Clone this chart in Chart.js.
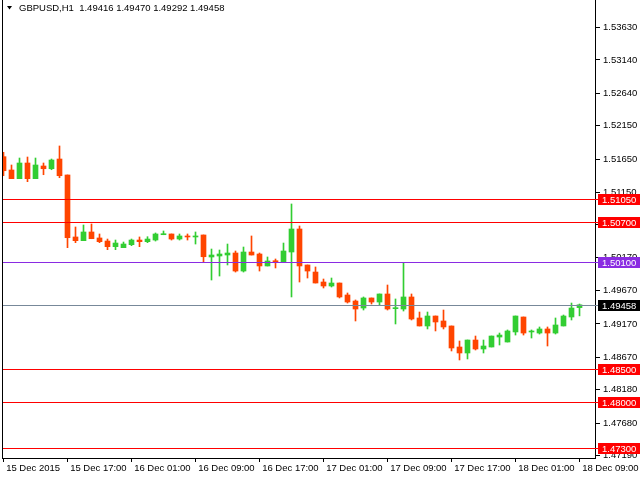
<!DOCTYPE html>
<html>
<head>
<meta charset="utf-8">
<script src="https://cdn.jsdelivr.net/npm/chart.js@4.4.0/dist/chart.umd.min.js"></script>
<style>
  html, body { margin: 0; padding: 0; background: #fff; }
</style>
</head>
<body>
<canvas id="graficoLibra" width="640" height="480"></canvas>
<script>
// GBPUSD H1 (abertura, maxima, minima, fechamento)
const aberturas = [1.51685, 1.51485, 1.51354, 1.51590, 1.51354, 1.51545, 1.51504, 1.51650, 1.51410, 1.50478,
  1.50422, 1.50553, 1.50463, 1.50417, 1.50332, 1.50317, 1.50362, 1.50432, 1.50407, 1.50432,
  1.50512, 1.50523, 1.50447, 1.50493, 1.50478, 1.50508, 1.50177, 1.50192, 1.50207, 1.50237,
  1.49966, 1.50252, 1.50222, 1.50042, 1.50121, 1.50102, 1.50252, 1.50598, 1.50057, 1.49951,
  1.49801, 1.49741, 1.49786, 1.49606, 1.49515, 1.49410, 1.49561, 1.49500, 1.49621, 1.49400,
  1.49395, 1.49576, 1.49260, 1.49140, 1.49290, 1.49215, 1.49140, 1.48824, 1.48734, 1.48929,
  1.48794, 1.48824, 1.48974, 1.48899, 1.49050, 1.49275, 1.49050, 1.49034, 1.49095, 1.49034,
  1.49140, 1.49275, 1.49416];
const maximas = [1.51751, 1.51560, 1.51665, 1.51680, 1.51665, 1.51590, 1.51650, 1.51846, 1.51410, 1.50628,
  1.50658, 1.50673, 1.50523, 1.50447, 1.50432, 1.50402, 1.50447, 1.50478, 1.50482, 1.50538,
  1.50568, 1.50523, 1.50523, 1.50523, 1.50553, 1.50508, 1.50297, 1.50282, 1.50372, 1.50267,
  1.50327, 1.50493, 1.50237, 1.50177, 1.50147, 1.50387, 1.50974, 1.50643, 1.50057, 1.50027,
  1.49846, 1.49861, 1.49786, 1.49636, 1.49531, 1.49576, 1.49561, 1.49621, 1.49756, 1.49546,
  1.50087, 1.49621, 1.49350, 1.49350, 1.49290, 1.49380, 1.49140, 1.48914, 1.48929, 1.48989,
  1.48929, 1.48989, 1.49034, 1.49080, 1.49290, 1.49275, 1.49080, 1.49125, 1.49125, 1.49260,
  1.49305, 1.49485, 1.49470];
const minimas = [1.51399, 1.51354, 1.51354, 1.51309, 1.51354, 1.51414, 1.51489, 1.51369, 1.50317, 1.50392,
  1.50422, 1.50452, 1.50392, 1.50287, 1.50287, 1.50317, 1.50347, 1.50332, 1.50392, 1.50417,
  1.50512, 1.50432, 1.50432, 1.50432, 1.50372, 1.50102, 1.49831, 1.49891, 1.50057, 1.49951,
  1.49951, 1.50207, 1.49966, 1.50042, 1.50012, 1.50102, 1.49576, 1.49801, 1.49861, 1.49786,
  1.49711, 1.49726, 1.49561, 1.49485, 1.49215, 1.49380, 1.49470, 1.49455, 1.49380, 1.49170,
  1.49365, 1.49230, 1.49140, 1.49095, 1.49065, 1.49095, 1.48764, 1.48629, 1.48644, 1.48779,
  1.48734, 1.48824, 1.48854, 1.48899, 1.49004, 1.49004, 1.48959, 1.49019, 1.48839, 1.49019,
  1.49140, 1.49230, 1.49292];
const fechamentos = [1.51474, 1.51354, 1.51590, 1.51354, 1.51560, 1.51504, 1.51635, 1.51399, 1.50467, 1.50422,
  1.50553, 1.50452, 1.50407, 1.50332, 1.50387, 1.50372, 1.50432, 1.50407, 1.50447, 1.50523,
  1.50527, 1.50447, 1.50493, 1.50478, 1.50493, 1.50181, 1.50207, 1.50222, 1.50237, 1.49966,
  1.50252, 1.50207, 1.50042, 1.50117, 1.50102, 1.50267, 1.50598, 1.50042, 1.49966, 1.49786,
  1.49741, 1.49786, 1.49576, 1.49500, 1.49395, 1.49561, 1.49500, 1.49621, 1.49395, 1.49415,
  1.49576, 1.49245, 1.49140, 1.49290, 1.49200, 1.49125, 1.48809, 1.48734, 1.48929, 1.48794,
  1.48839, 1.48989, 1.49004, 1.49065, 1.49290, 1.49034, 1.49065, 1.49095, 1.49034, 1.49155,
  1.49290, 1.49410, 1.49458];

// rotulos de tempo (uma marca a cada 8 barras)
const barrasRotulo = [0, 8, 16, 24, 32, 40, 48, 56, 64, 72];
const rotulosTempo = ["15 Dec 2015", "15 Dec 17:00", "16 Dec 01:00", "16 Dec 09:00", "16 Dec 17:00",
  "17 Dec 01:00", "17 Dec 09:00", "17 Dec 17:00", "18 Dec 01:00", "18 Dec 09:00"];

// escala de precos
const ticksPreco = [1.53630, 1.53140, 1.52640, 1.52150, 1.51650, 1.51150, 1.50660, 1.50170,
  1.49670, 1.49170, 1.48670, 1.48180, 1.47680, 1.47190];
const precoMin = 1.471553;
const precoMax = 1.540404;

// linhas horizontais e preco atual
const niveis = [1.51050, 1.50700, 1.50100, 1.48500, 1.48000, 1.47300];
const coresNiveis = ["#ff0000", "#ff0000", "#8a2be2", "#ff0000", "#ff0000", "#ff0000"];
const precoAtual = 1.49458;
const titulo = "GBPUSD,H1  1.49416 1.49470 1.49292 1.49458";

const familia = "'Liberation Sans', Arial, sans-serif";
const fonte = "9.5px " + familia;
const corAlta = "#32cd32";
const corBaixa = "#ff4500";

function corDaBarra(i) {
  return fechamentos[i] >= aberturas[i] ? corAlta : corBaixa;
}

const cores = aberturas.map((_, i) => corDaBarra(i));
const sombras = aberturas.map((_, i) => ({ x: i, y: [minimas[i], maximas[i]] }));
const corpos = aberturas.map((_, i) => ({ x: i, y: [aberturas[i], fechamentos[i]] }));

function linhaH(c, y, x1, x2, cor) {
  const yy = Math.round(y) + 0.5;
  c.strokeStyle = cor;
  c.lineWidth = 1;
  c.beginPath();
  c.moveTo(x1, yy);
  c.lineTo(x2, yy);
  c.stroke();
}

function etiqueta(c, y, texto, fundo) {
  const yy = Math.round(y);
  c.fillStyle = fundo;
  c.fillRect(598, yy - 5, 42, 11);
  c.fillStyle = "#ffffff";
  c.font = fonte;
  c.textAlign = "left";
  c.textBaseline = "middle";
  c.fillText(texto, 602, yy + 1);
}

const desenhos = {
  id: "desenhos",
  afterDatasetsDraw(chart) {
    const c = chart.ctx;
    const area = chart.chartArea;
    const escalaY = chart.scales.y;
    c.save();
    niveis.forEach((nivel, i) => {
      linhaH(c, escalaY.getPixelForValue(nivel), area.left, area.right + 3, coresNiveis[i]);
    });
    linhaH(c, escalaY.getPixelForValue(precoAtual), area.left, area.right + 3, "#778899");
    c.restore();
  },
  afterDraw(chart) {
    const c = chart.ctx;
    const area = chart.chartArea;
    const escalaY = chart.scales.y;
    c.save();
    // moldura esquerda
    c.strokeStyle = "#000000";
    c.lineWidth = 1;
    c.beginPath();
    c.moveTo(area.left + 0.5, area.top);
    c.lineTo(area.left + 0.5, area.bottom);
    c.stroke();

    niveis.forEach((nivel, i) => {
      etiqueta(c, escalaY.getPixelForValue(nivel), nivel.toFixed(5), coresNiveis[i]);
    });
    etiqueta(c, escalaY.getPixelForValue(precoAtual), precoAtual.toFixed(5), "#000000");

    // titulo no canto
    c.fillStyle = "#000000";
    c.beginPath();
    c.moveTo(7, 6);
    c.lineTo(12, 6);
    c.lineTo(9.5, 9.5);
    c.closePath();
    c.fill();
    c.font = fonte;
    c.textAlign = "left";
    c.textBaseline = "middle";
    c.fillText(titulo, 19, 8);
    c.restore();
  }
};

const graficoLibra = document.getElementById("graficoLibra");

new Chart(graficoLibra, {
  type: "bar",
  data: {
    datasets: [{
      label: "sombras",
      data: sombras,
      backgroundColor: cores,
      barThickness: 1,
      grouped: false,
      borderWidth: 0,
      borderSkipped: false,
      clip: 0,
      order: 2
    }, {
      label: "corpos",
      data: corpos,
      backgroundColor: cores,
      barThickness: 5,
      minBarLength: 1,
      grouped: false,
      borderWidth: 0,
      borderSkipped: false,
      clip: 0,
      order: 1
    }]
  },
  options: {
    responsive: false,
    animation: false,
    devicePixelRatio: 1,
    layout: { padding: { left: 2, top: 0, right: 0, bottom: 0 } },
    plugins: { legend: { display: false }, tooltip: { enabled: false } },
    scales: {
      x: {
        type: "linear",
        min: -0.1875,
        max: 73.9375,
        offset: false,
        afterBuildTicks: (escala) => {
          escala.ticks = barrasRotulo.map(v => ({ value: v }));
        },
        afterFit: (escala) => {
          escala.height = 22;
          escala.paddingLeft = 0;
          escala.paddingRight = 0;
        },
        grid: { drawOnChartArea: false, offset: false, tickLength: 4, color: "#000000" },
        border: { display: true, color: "#000000", width: 1 },
        ticks: {
          align: "start",
          autoSkip: false,
          maxRotation: 0,
          padding: 1,
          color: "#000000",
          font: { family: familia, size: 9.5 },
          callback: (valor) => " " + rotulosTempo[barrasRotulo.indexOf(valor)]
        }
      },
      y: {
        type: "linear",
        position: "right",
        min: precoMin,
        max: precoMax,
        beginAtZero: false,
        afterBuildTicks: (escala) => {
          escala.ticks = ticksPreco.map(v => ({ value: v }));
        },
        afterFit: (escala) => {
          escala.width = 45;
          escala.paddingTop = 0;
          escala.paddingBottom = 0;
        },
        grid: { drawOnChartArea: false, tickLength: 5, color: "#000000" },
        border: { display: true, color: "#000000", width: 1 },
        ticks: {
          padding: 3,
          color: "#000000",
          font: { family: familia, size: 9.5 },
          callback: (valor) => valor.toFixed(5)
        }
      }
    }
  },
  plugins: [desenhos]
});
</script>
</body>
</html>
